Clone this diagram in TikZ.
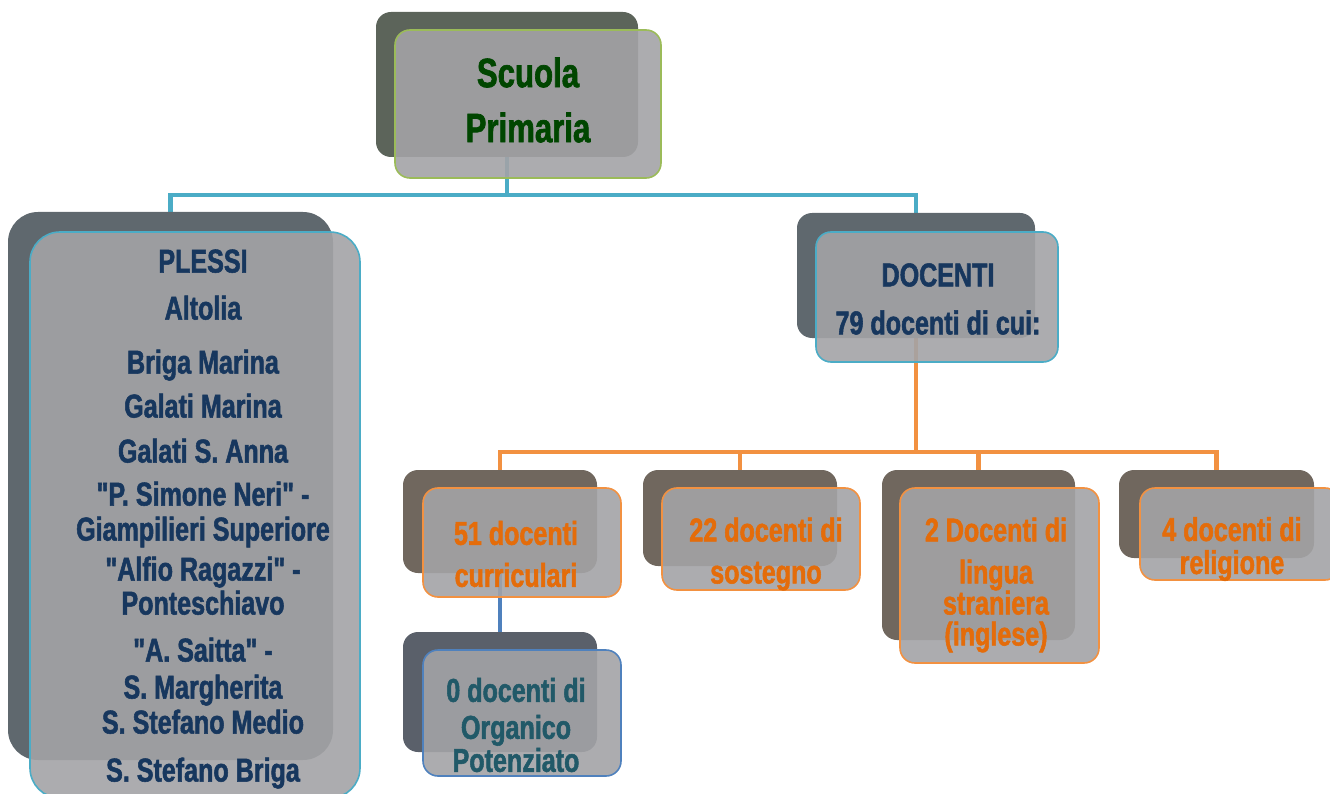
\documentclass[tikz,border=0pt]{standalone}
\usepackage{fontspec}
\newfontfamily\orgfont[FakeStretch=0.76,FakeBold=1.6]{Liberation Sans}
\usetikzlibrary{backgrounds}

\definecolor{boxgray}{RGB}{163,163,166}
\definecolor{shgreen}{RGB}{92,100,90}
\definecolor{shblue}{RGB}{95,104,110}
\definecolor{shbrown}{RGB}{112,103,94}
\definecolor{shnavy}{RGB}{90,96,106}
\definecolor{grnborder}{RGB}{155,187,89}
\definecolor{cyanln}{RGB}{75,172,198}
\definecolor{orgln}{RGB}{242,145,65}
\definecolor{blueln}{RGB}{79,129,189}
\definecolor{grntxt}{RGB}{0,70,0}
\definecolor{bluetxt}{RGB}{23,55,94}
\definecolor{orgtxt}{RGB}{228,108,10}
\definecolor{tealtxt}{RGB}{33,89,104}

\tikzset{
  shadowbox/.style={rounded corners=15pt, fill=#1, inner sep=0pt},
  frontbox/.style={draw=#1, line width=1.6pt, rounded corners=15pt, fill=boxgray, fill opacity=0.9, inner sep=0pt},
  boxtext/.style={text=#1, font=\orgfont\bfseries\fontsize{33}{34}\selectfont, align=center, inner sep=0pt},
  link/.style={draw=#1, line width=4.5pt}
}

\begin{document}
\begin{tikzpicture}[x=1pt, y=-1pt]
  \useasboundingbox (0,0) rectangle (1330,794);

  % top box
  \node[shadowbox=shgreen, minimum width=262pt, minimum height=145pt] (scuola-sh) at (507,84.5) {};
  \node[frontbox=grnborder, minimum width=266pt, minimum height=148pt] (scuola) at (528,104) {};
  \node[boxtext=grntxt, font=\orgfont\bfseries\fontsize{41}{40}\selectfont] (scuola-txt) at (528,100) {Scuola\\[15pt]Primaria};

  % plessi
  \node[shadowbox=shblue, rounded corners=30pt, minimum width=325pt, minimum height=548pt] (plessi-sh) at (170.5,486) {};
  \node[frontbox=cyanln, rounded corners=30pt, minimum width=330pt, minimum height=566pt] (plessi) at (195,515) {};
  \node[boxtext=bluetxt] (plessi-txt) at (203,519) {PLESSI\\[13pt]Altolia\\[20pt]Briga Marina\\[10pt]Galati Marina\\[11pt]Galati S. Anna\\[9pt]%
    "P. Simone Neri" -\\[1pt]Giampilieri Superiore\\[6pt]"Alfio Ragazzi" -\\Ponteschiavo\\[13pt]"A. Saitta" -\\[3pt]S. Margherita\\[1pt]S. Stefano Medio\\[14pt]S. Stefano Briga};

  % docenti
  \node[shadowbox=shblue, minimum width=238pt, minimum height=125pt] (docenti-sh) at (916,275.5) {};
  \node[frontbox=cyanln, minimum width=242pt, minimum height=130pt] (docenti) at (937,297) {};
  \node[boxtext=bluetxt] (docenti-txt) at (938,299) {DOCENTI\\[14pt]79 docenti di cui:};

  % categorie
  \node[shadowbox=shbrown, minimum width=194pt, minimum height=103pt] (curr-sh) at (500,521.5) {};
  \node[frontbox=orgln, minimum width=198pt, minimum height=109pt] (curr) at (522,542.5) {};
  \node[boxtext=orgtxt] (curr-txt) at (516,554) {51 docenti\\[8pt]curriculari};

  \node[shadowbox=shbrown, minimum width=194pt, minimum height=96pt] (sost-sh) at (740,518) {};
  \node[frontbox=orgln, minimum width=198pt, minimum height=102pt] (sost) at (761,539) {};
  \node[boxtext=orgtxt] (sost-txt) at (766,554) {22 docenti di\\[8pt]sostegno};

  \node[shadowbox=shbrown, minimum width=193pt, minimum height=170pt] (lingua-sh) at (978.5,555) {};
  \node[frontbox=orgln, minimum width=199pt, minimum height=175pt] (lingua) at (999.5,575.5) {};
  \node[boxtext=orgtxt] (lingua-txt) at (996,585) {2 Docenti di\\[8pt]lingua\\[-3pt]straniera\\[-3pt](inglese)};

  \node[shadowbox=shbrown, minimum width=195pt, minimum height=88pt] (relig-sh) at (1216.5,514) {};
  \node[frontbox=orgln, minimum width=200pt, minimum height=92pt] (relig) at (1240,534) {};
  \node[boxtext=orgtxt] (relig-txt) at (1232,549) {4 docenti di\\[-1pt]religione};

  % potenziato
  \node[shadowbox=shnavy, minimum width=194pt, minimum height=120pt] (pot-sh) at (500,692) {};
  \node[frontbox=blueln, minimum width=198pt, minimum height=126pt] (pot) at (522,713) {};
  \node[boxtext=tealtxt] (pot-txt) at (516,725) {0 docenti di\\[3pt]Organico\\[-1pt]Potenziato};

  % connectors
  \begin{scope}[on background layer]
    \draw[link=cyanln] (scuola-sh.center) -- (scuola-sh.center |- 0,195) -| (plessi-sh.north);
    \draw[link=cyanln] (scuola-sh.center |- 0,195) -| (docenti-sh.north);
    \draw[link=orgln] (docenti-sh.center) -- (docenti-sh.center |- 0,452) -| (curr-sh.north);
    \draw[link=orgln] (docenti-sh.center |- 0,452) -| (sost-sh.north);
    \draw[link=orgln] (docenti-sh.center |- 0,452) -| (lingua-sh.north);
    \draw[link=orgln] (docenti-sh.center |- 0,452) -| (relig-sh.north);
    \draw[link=blueln] (curr-sh.center) -- (pot-sh.north);
  \end{scope}
\end{tikzpicture}
\end{document}
